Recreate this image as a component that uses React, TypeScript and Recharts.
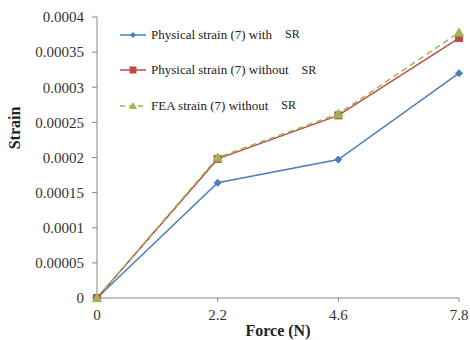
import React from 'react';
import { LineChart, Line, XAxis, YAxis, Legend } from 'recharts';

const forces = ['0', '2.2', '4.6', '7.8'];
const physicalWithSR = [0, 0.000164, 0.000197, 0.00032];
const physicalWithoutSR = [0, 0.000198, 0.00026, 0.00037];
const feaWithoutSR = [0, 0.0002, 0.000262, 0.000378];
const yTicks = [0, 0.00005, 0.0001, 0.00015, 0.0002, 0.00025, 0.0003, 0.00035, 0.0004];

const seriesNames = ['Physical strain (7) with', 'Physical strain (7) without', 'FEA strain (7) without'];

const data = forces.map((f, i) => ({
  force: f,
  a: physicalWithSR[i],
  b: physicalWithoutSR[i],
  c: feaWithoutSR[i],
}));

const BLUE = '#4a7ebb';
const RED = '#be4b48';
const GREEN = '#98b954';
const FONT = '"Liberation Serif", "Times New Roman", serif';
const AXIS = '#868686';

const Diamond = (p: any) => {
  const { cx, cy } = p;
  if (cx == null || cy == null) return <g key={p.key} />;
  const s = 3.5;
  return <path key={p.key} d={`M${cx},${cy - s}L${cx + s},${cy}L${cx},${cy + s}L${cx - s},${cy}Z`} fill={BLUE} stroke={BLUE} />;
};
const Square = (p: any) => {
  const { cx, cy } = p;
  if (cx == null || cy == null) return <g key={p.key} />;
  const s = 3.5;
  return <rect key={p.key} x={cx - s} y={cy - s} width={2 * s} height={2 * s} fill={RED} stroke={RED} />;
};
const Triangle = (p: any) => {
  const { cx, cy } = p;
  if (cx == null || cy == null) return <g key={p.key} />;
  const s = 4.5;
  return <path key={p.key} d={`M${cx},${cy - s}L${cx + s},${cy + s * 0.8}L${cx - s},${cy + s * 0.8}Z`} fill={GREEN} stroke={GREEN} />;
};

const icons = [
  <svg width="26" height="10" key="i0"><line x1="0" y1="5" x2="26" y2="5" stroke={BLUE} strokeWidth="1.5" /><path d="M13,2L16,5L13,8L10,5Z" fill={BLUE} /></svg>,
  <svg width="26" height="10" key="i1"><line x1="0" y1="5" x2="26" y2="5" stroke={RED} strokeWidth="1.5" /><rect x="9.5" y="1.5" width="7" height="7" fill={RED} /></svg>,
  <svg width="26" height="10" key="i2"><line x1="0" y1="5" x2="26" y2="5" stroke={GREEN} strokeWidth="1.5" strokeDasharray="5 4" /><path d="M13,1L17,8L9,8Z" fill={GREEN} /></svg>,
];

const LegendContent = () => (
  <div style={{ fontFamily: FONT, fontSize: 13, color: '#222' }}>
    {seriesNames.map((n, i) => (
      <div key={n} style={{ display: 'flex', alignItems: 'center', height: 35.5, whiteSpace: 'nowrap' }}>
        {icons[i]}
        <span style={{ marginLeft: 5 }}>{n}</span>
        <span style={{ marginLeft: 13, fontSize: 12 }}>SR</span>
      </div>
    ))}
  </div>
);

const YLabel = (props: any) => {
  const vb = props.viewBox || {};
  const x = vb.x + 14;
  const y = 128;
  return (
    <text x={x} y={y} transform={`rotate(-90, ${x}, ${y})`} textAnchor="middle" dominantBaseline="central"
      fontFamily={FONT} fontSize={16} fontWeight="bold" fill="#222">Strain</text>
  );
};

export default function App() {
  return (
    <div style={{ position: 'absolute', left: 0, top: 0, width: 470, height: 340, background: '#fff' }}>
      <LineChart width={470} height={340} data={data} margin={{ top: 17, right: 11, bottom: 0, left: 0 }}>
        <XAxis
          dataKey="force"
          height={42}
          interval={0}
          tickSize={4}
          tickMargin={7}
          axisLine={{ stroke: AXIS }}
          tickLine={{ stroke: AXIS }}
          tick={{ fill: '#333', fontSize: 15, fontFamily: FONT }}
          label={{ value: 'Force (N)', position: 'insideBottom', offset: 4, fill: '#222', fontSize: 16, fontWeight: 'bold', fontFamily: FONT }}
        />
        <YAxis
          width={97}
          domain={[0, 0.0004]}
          ticks={yTicks}
          interval={0}
          tickSize={5}
          tickMargin={8}
          axisLine={{ stroke: AXIS }}
          tickLine={{ stroke: AXIS }}
          tick={{ fill: '#333', fontSize: 15, fontFamily: FONT }}
          tickFormatter={(v: number) => String(v)}
          label={<YLabel />}
        />
        <Legend
          layout="vertical"
          align="center"
          verticalAlign="middle"
          content={<LegendContent />}
          wrapperStyle={{ left: 120, top: 17, width: 260 }}
        />
        <Line type="linear" dataKey="a" stroke={BLUE} strokeWidth={1.5} dot={Diamond} activeDot={false} isAnimationActive={false} />
        <Line type="linear" dataKey="b" stroke={RED} strokeWidth={1.5} dot={Square} activeDot={false} isAnimationActive={false} />
        <Line type="linear" dataKey="c" stroke={GREEN} strokeWidth={1.5} strokeDasharray="6 4" dot={Triangle} activeDot={false} isAnimationActive={false} />
      </LineChart>
    </div>
  );
}
